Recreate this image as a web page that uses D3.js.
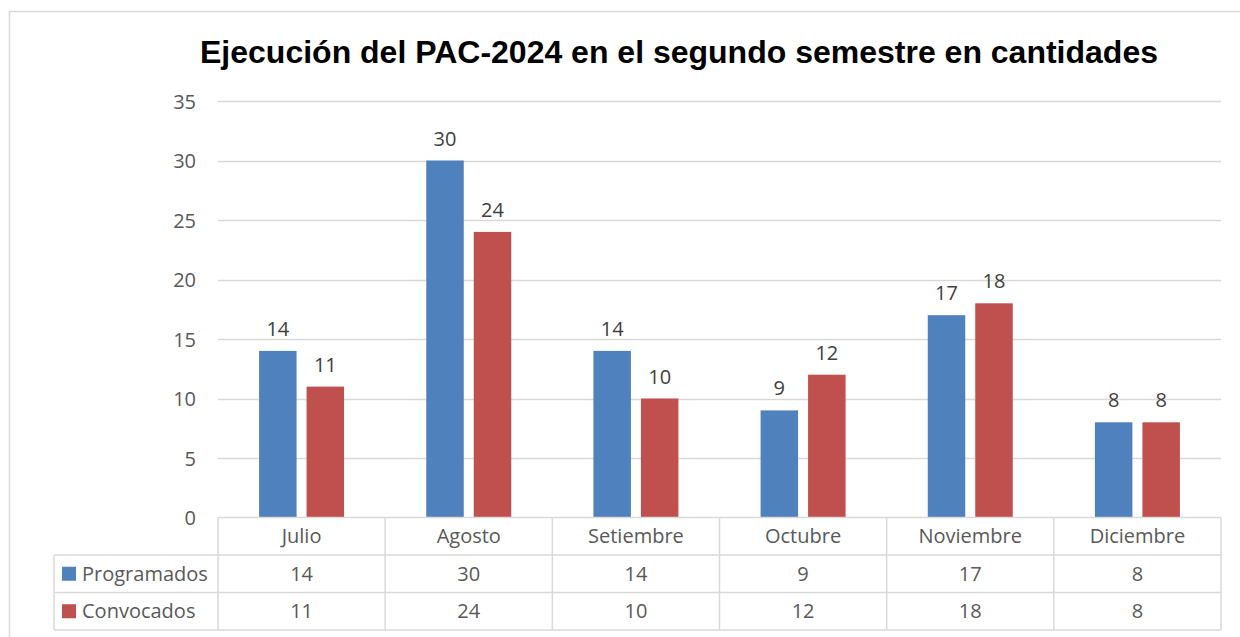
<!DOCTYPE html>
<html><head><meta charset="utf-8">
<script src="https://cdn.jsdelivr.net/npm/d3@7"></script>
<style>
body{margin:0;background:#fff;}
svg{display:block;}
</style></head>
<body>
<svg id="chart" width="1240" height="637"></svg>
<script>
const title = "Ejecución del PAC-2024 en el segundo semestre en cantidades";
const categories = ["Julio","Agosto","Setiembre","Octubre","Noviembre","Diciembre"];
const seriesNames = ["Programados","Convocados"];
const programados = [14,30,14,9,17,8];
const convocados = [11,24,10,12,18,8];
const seriesColors = ["#4F81BD","#C0504D"];
const yTicks = [0,5,10,15,20,25,30,35];

const seriesValues = [programados, convocados];
const svg = d3.select("#chart");
const labelFont = "'Open Sans', sans-serif";
const fs = 20;
const textColor = "#595959";
const gridColor = "#d9d9d9";

const plotLeft = 218, plotRight = 1221, plotTop = 101, plotBottom = 517.5;
const rowH = 37.5;
const legendLeft = 54;

// outer border
svg.append("rect").attr("x",9.5).attr("y",11.5).attr("width",1240).attr("height",640)
  .attr("fill","none").attr("stroke",gridColor).attr("stroke-width",1.5);

// title
svg.append("text").attr("x",679).attr("y",63).attr("text-anchor","middle")
  .attr("font-family","'Liberation Sans', Arial, sans-serif").attr("font-weight","bold")
  .attr("font-size",32).attr("fill","#000").text(title);

const y = d3.scaleLinear().domain([0,35]).range([plotBottom, plotTop]);
const x0 = d3.scaleBand().domain(categories).range([plotLeft, plotRight]);
const groupW = 85;
const x1 = d3.scaleBand().domain(seriesNames).range([-groupW/2, groupW/2]).paddingInner(10/47.5);

// gridlines
svg.append("g").selectAll("line").data(yTicks.filter(d=>d>0)).join("line")
  .attr("x1",plotLeft).attr("x2",plotRight)
  .attr("y1",d=>Math.round(y(d))+0.5).attr("y2",d=>Math.round(y(d))+0.5)
  .attr("stroke",gridColor).attr("stroke-width",1.5);

// y axis labels
const yAxis = d3.axisLeft(y).tickValues(yTicks).tickSize(0).tickPadding(0);
const yg = svg.append("g").attr("transform",`translate(196,0)`).call(yAxis);
yg.select(".domain").remove();
yg.selectAll("text").attr("font-family",labelFont).attr("font-size",fs).attr("fill",textColor)
  .attr("dy","0.35em");

// bars
const groups = svg.append("g").selectAll("g").data(categories).join("g")
  .attr("transform",d=>`translate(${x0(d)+x0.bandwidth()/2},0)`);
seriesNames.forEach((s,si)=>{
  groups.append("rect")
    .attr("x",x1(s)).attr("width",x1.bandwidth())
    .attr("y",(d,i)=>y(seriesValues[si][i]))
    .attr("height",(d,i)=>plotBottom - y(seriesValues[si][i]))
    .attr("fill",seriesColors[si]);
  groups.append("text")
    .attr("x",x1(s)+x1.bandwidth()/2)
    .attr("y",(d,i)=>y(seriesValues[si][i]) - 15)
    .attr("text-anchor","middle").attr("font-family",labelFont).attr("font-size",fs)
    .attr("fill","#404040").text((d,i)=>seriesValues[si][i]);
});

// data table
const tg = svg.append("g");
const tableBottom = plotBottom + rowH*3;
tg.append("line").attr("x1",plotLeft).attr("x2",plotRight).attr("y1",plotBottom).attr("y2",plotBottom)
  .attr("stroke",gridColor).attr("stroke-width",1.5);
[1,2,3].forEach(r=>{
  tg.append("line").attr("x1",legendLeft).attr("x2",plotRight)
    .attr("y1",plotBottom+rowH*r).attr("y2",plotBottom+rowH*r)
    .attr("stroke",gridColor).attr("stroke-width",1.5);
});
const vx = categories.map(c=>x0(c)).concat([plotRight]);
tg.selectAll("line.v").data(vx).join("line").attr("class","v")
  .attr("x1",d=>d).attr("x2",d=>d).attr("y1",plotBottom).attr("y2",tableBottom)
  .attr("stroke",gridColor).attr("stroke-width",1.5);
tg.append("line").attr("x1",legendLeft).attr("x2",legendLeft)
  .attr("y1",plotBottom+rowH).attr("y2",tableBottom)
  .attr("stroke",gridColor).attr("stroke-width",1.5);

tg.selectAll("text.cat").data(categories).join("text").attr("class","cat")
  .attr("x",d=>x0(d)+x0.bandwidth()/2).attr("y",plotBottom+rowH/2)
  .attr("dy","0.35em").attr("text-anchor","middle")
  .attr("font-family",labelFont).attr("font-size",fs).attr("fill",textColor).text(d=>d);

seriesNames.forEach((s,si)=>{
  const ry = plotBottom + rowH*(si+1);
  tg.append("rect").attr("x",62).attr("y",ry+rowH/2-7).attr("width",14).attr("height",14)
    .attr("fill",seriesColors[si]);
  tg.append("text").attr("x",82).attr("y",ry+rowH/2).attr("dy","0.35em")
    .attr("font-family",labelFont).attr("font-size",fs).attr("fill",textColor).text(s);
  tg.selectAll(null).data(categories).join("text")
    .attr("x",d=>x0(d)+x0.bandwidth()/2).attr("y",ry+rowH/2).attr("dy","0.35em")
    .attr("text-anchor","middle").attr("font-family",labelFont).attr("font-size",fs)
    .attr("fill",textColor).text((d,i)=>seriesValues[si][i]);
});
</script>
</body></html>
